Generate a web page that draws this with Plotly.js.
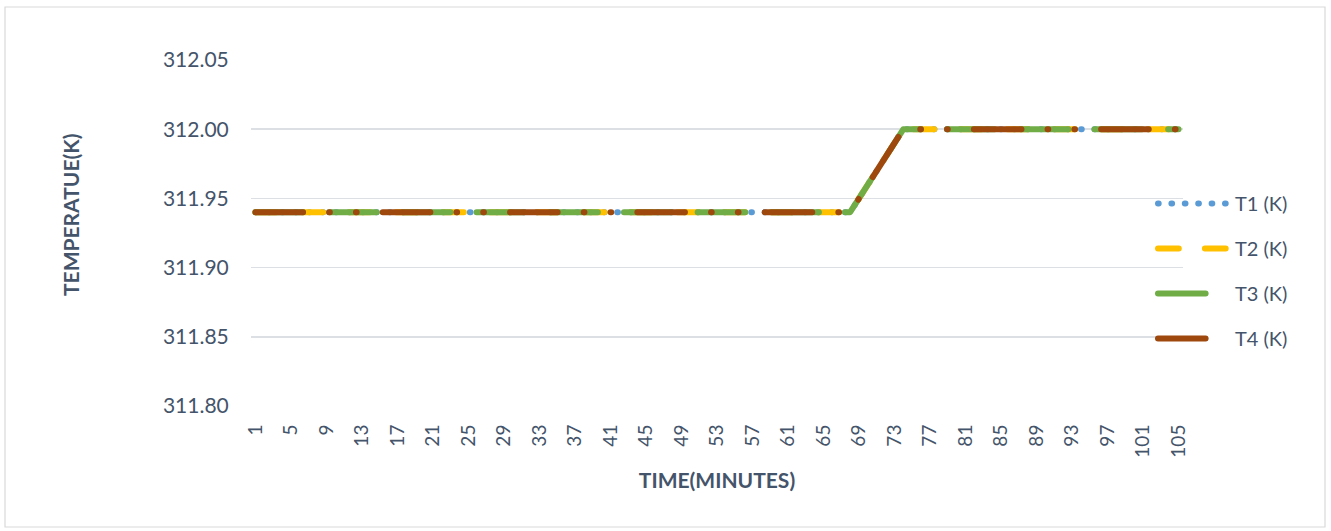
<!DOCTYPE html>
<html>
<head>
<meta charset="utf-8">
<script src="https://cdn.plot.ly/plotly-3.0.1.min.js"></script>
<style>
  html, body { margin: 0; padding: 0; background: #ffffff; }
  #chart { width: 1331px; height: 531px; }
</style>
</head>
<body>
<div id="chart"></div>
<script>
// Minute index of each reading
const minutes = [
  1, 2, 3, 4, 5, 6, 7, 8, 9, 10,
  11, 12, 13, 14, 15, 16, 17, 18, 19, 20,
  21, 22, 23, 24, 25, 26, 27, 28, 29, 30,
  31, 32, 33, 34, 35, 36, 37, 38, 39, 40,
  41, 42, 43, 44, 45, 46, 47, 48, 49, 50,
  51, 52, 53, 54, 55, 56, 57, 58, 59, 60,
  61, 62, 63, 64, 65, 66, 67, 68, 69, 70,
  71, 72, 73, 74, 75, 76, 77, 78, 79, 80,
  81, 82, 83, 84, 85, 86, 87, 88, 89, 90,
  91, 92, 93, 94, 95, 96, 97, 98, 99, 100,
  101, 102, 103, 104, 105
];

// Sensor temperatures in kelvin, one value per minute
const t1 = [
  311.94, 311.94, 311.94, 311.94, 311.94, 311.94, 311.94, 311.94, 311.94, 311.94,
  311.94, 311.94, 311.94, 311.94, 311.94, 311.94, 311.94, 311.94, 311.94, 311.94,
  311.94, 311.94, 311.94, 311.94, 311.94, 311.94, 311.94, 311.94, 311.94, 311.94,
  311.94, 311.94, 311.94, 311.94, 311.94, 311.94, 311.94, 311.94, 311.94, 311.94,
  311.94, 311.94, 311.94, 311.94, 311.94, 311.94, 311.94, 311.94, 311.94, 311.94,
  311.94, 311.94, 311.94, 311.94, 311.94, 311.94, 311.94, 311.94, 311.94, 311.94,
  311.94, 311.94, 311.94, 311.94, 311.94, 311.94, 311.94, 311.94, 311.95, 311.96,
  311.97, 311.98, 311.99, 312.00, 312.00, 312.00, 312.00, 312.00, 312.00, 312.00,
  312.00, 312.00, 312.00, 312.00, 312.00, 312.00, 312.00, 312.00, 312.00, 312.00,
  312.00, 312.00, 312.00, 312.00, 312.00, 312.00, 312.00, 312.00, 312.00, 312.00,
  312.00, 312.00, 312.00, 312.00, 312.00
];
const t2 = [
  311.94, 311.94, 311.94, 311.94, 311.94, 311.94, 311.94, 311.94, 311.94, 311.94,
  311.94, 311.94, 311.94, 311.94, 311.94, 311.94, 311.94, 311.94, 311.94, 311.94,
  311.94, 311.94, 311.94, 311.94, 311.94, 311.94, 311.94, 311.94, 311.94, 311.94,
  311.94, 311.94, 311.94, 311.94, 311.94, 311.94, 311.94, 311.94, 311.94, 311.94,
  311.94, 311.94, 311.94, 311.94, 311.94, 311.94, 311.94, 311.94, 311.94, 311.94,
  311.94, 311.94, 311.94, 311.94, 311.94, 311.94, 311.94, 311.94, 311.94, 311.94,
  311.94, 311.94, 311.94, 311.94, 311.94, 311.94, 311.94, 311.94, 311.95, 311.96,
  311.97, 311.98, 311.99, 312.00, 312.00, 312.00, 312.00, 312.00, 312.00, 312.00,
  312.00, 312.00, 312.00, 312.00, 312.00, 312.00, 312.00, 312.00, 312.00, 312.00,
  312.00, 312.00, 312.00, 312.00, 312.00, 312.00, 312.00, 312.00, 312.00, 312.00,
  312.00, 312.00, 312.00, 312.00, 312.00
];
const t3 = [
  311.94, 311.94, 311.94, 311.94, 311.94, 311.94, 311.94, 311.94, 311.94, 311.94,
  311.94, 311.94, 311.94, 311.94, 311.94, 311.94, 311.94, 311.94, 311.94, 311.94,
  311.94, 311.94, 311.94, 311.94, 311.94, 311.94, 311.94, 311.94, 311.94, 311.94,
  311.94, 311.94, 311.94, 311.94, 311.94, 311.94, 311.94, 311.94, 311.94, 311.94,
  311.94, 311.94, 311.94, 311.94, 311.94, 311.94, 311.94, 311.94, 311.94, 311.94,
  311.94, 311.94, 311.94, 311.94, 311.94, 311.94, 311.94, 311.94, 311.94, 311.94,
  311.94, 311.94, 311.94, 311.94, 311.94, 311.94, 311.94, 311.94, 311.95, 311.96,
  311.97, 311.98, 311.99, 312.00, 312.00, 312.00, 312.00, 312.00, 312.00, 312.00,
  312.00, 312.00, 312.00, 312.00, 312.00, 312.00, 312.00, 312.00, 312.00, 312.00,
  312.00, 312.00, 312.00, 312.00, 312.00, 312.00, 312.00, 312.00, 312.00, 312.00,
  312.00, 312.00, 312.00, 312.00, 312.00
];
const t4 = [
  311.94, 311.94, 311.94, 311.94, 311.94, 311.94, 311.94, 311.94, 311.94, 311.94,
  311.94, 311.94, 311.94, 311.94, 311.94, 311.94, 311.94, 311.94, 311.94, 311.94,
  311.94, 311.94, 311.94, 311.94, 311.94, 311.94, 311.94, 311.94, 311.94, 311.94,
  311.94, 311.94, 311.94, 311.94, 311.94, 311.94, 311.94, 311.94, 311.94, 311.94,
  311.94, 311.94, 311.94, 311.94, 311.94, 311.94, 311.94, 311.94, 311.94, 311.94,
  311.94, 311.94, 311.94, 311.94, 311.94, 311.94, 311.94, 311.94, 311.94, 311.94,
  311.94, 311.94, 311.94, 311.94, 311.94, 311.94, 311.94, 311.94, 311.95, 311.96,
  311.97, 311.98, 311.99, 312.00, 312.00, 312.00, 312.00, 312.00, 312.00, 312.00,
  312.00, 312.00, 312.00, 312.00, 312.00, 312.00, 312.00, 312.00, 312.00, 312.00,
  312.00, 312.00, 312.00, 312.00, 312.00, 312.00, 312.00, 312.00, 312.00, 312.00,
  312.00, 312.00, 312.00, 312.00, 312.00
];

const seriesNames = ['T1 (K)', 'T2 (K)', 'T3 (K)', 'T4 (K)'];

// Tick labels on the minute axis: every fourth minute
const minuteTicks = [1, 5, 9, 13, 17, 21, 25, 29, 33, 37, 41, 45, 49, 53, 57, 61, 65, 69, 73, 77, 81, 85, 89, 93, 97, 101, 105];
const tempTicks = [311.80, 311.85, 311.90, 311.95, 312.00, 312.05];

const textColor = '#44546A';
const gridColor = '#DCDFE3';
const baseFont = 'Lato, "Open Sans", sans-serif';

// Line styles (dash lengths are tuned for round caps on a 6px stroke)
const styles = [
  { color: '#5B9BD5', dash: '0.7px,12.7px' },
  { color: '#FFC000', dash: '20.8px,26.1px' },
  { color: '#70AD47', dash: '47.6px,26.1px' },
  { color: '#9E480E', dash: '47.6px,26.1px,0.7px,26.1px,0.7px,26.1px' }
];

const values = [t1, t2, t3, t4];
const traces = values.map((v, i) => ({
  type: 'scatter',
  mode: 'lines',
  x: minutes,
  y: v,
  name: seriesNames[i],
  legendgroup: 'g' + i,
  line: { color: styles[i].color, width: 6, dash: styles[i].dash },
  hoverinfo: 'x+y+name'
}));

const layout = {
  width: 1331,
  height: 531,
  margin: { l: 251, r: 148, t: 60, b: 125, pad: 0, autoexpand: false },
  paper_bgcolor: '#ffffff',
  plot_bgcolor: '#ffffff',
  font: { family: baseFont, color: textColor, size: 19 },
  showlegend: true,
  legend: {
    xref: 'container', yref: 'container',
    x: 1153 / 1331, y: 1 - 184 / 531,
    xanchor: 'left', yanchor: 'top',
    bgcolor: 'rgba(0,0,0,0)',
    borderwidth: 0,
    font: { family: baseFont, size: 20, color: textColor },
    traceorder: 'grouped',
    tracegroupgap: 16,
    itemwidth: 72
  },
  xaxis: {
    type: 'linear',
    range: [0.5, 105.5],
    tickmode: 'array',
    tickvals: minuteTicks,
    ticktext: minuteTicks.map(String),
    tickangle: -90,
    ticks: 'outside',
    ticklen: 10,
    tickcolor: 'rgba(0,0,0,0)',
    showgrid: false,
    zeroline: false,
    showline: false,
    tickfont: { family: baseFont, size: 19, color: textColor },
    title: {
      text: 'TIME(MINUTES)',
      font: { family: baseFont, size: 21, color: textColor, weight: 'bold' },
      standoff: 16
    },
    fixedrange: true
  },
  yaxis: {
    range: [311.80, 312.05],
    tickmode: 'array',
    tickvals: tempTicks,
    ticktext: tempTicks.map(v => v.toFixed(2)),
    ticks: 'outside',
    ticklen: 17,
    tickcolor: 'rgba(0,0,0,0)',
    showgrid: true,
    gridcolor: gridColor,
    gridwidth: 1.5,
    zeroline: false,
    showline: false,
    tickfont: { family: baseFont, size: 21, color: textColor },
    fixedrange: true
  },
  annotations: [
    {
      text: 'TEMPERATUE(K)',
      xref: 'paper', yref: 'paper',
      x: (70 - 251) / 932, y: (406 - 215) / 346,
      xanchor: 'center', yanchor: 'middle',
      textangle: -90,
      showarrow: false,
      font: { family: baseFont, size: 21, color: textColor, weight: 'bold' }
    }
  ],
  shapes: [
    {
      // thin frame around the whole chart
      type: 'rect',
      xref: 'paper', yref: 'paper',
      x0: (5 - 251) / 932, x1: (1325 - 251) / 932,
      y0: (406 - 527) / 346, y1: (406 - 7) / 346,
      line: { color: '#D9D9D9', width: 1.2 },
      fillcolor: 'rgba(0,0,0,0)',
      layer: 'below'
    }
  ]
};

Plotly.newPlot('chart', traces, layout, { displayModeBar: false, staticPlot: true }).then(gd => {
  // rounded dash ends, like the office-style line caps
  gd.querySelectorAll('path.js-line').forEach(p => {
    p.style.strokeLinecap = 'round';
    p.style.strokeLinejoin = 'round';
  });
});
</script>
</body>
</html>
